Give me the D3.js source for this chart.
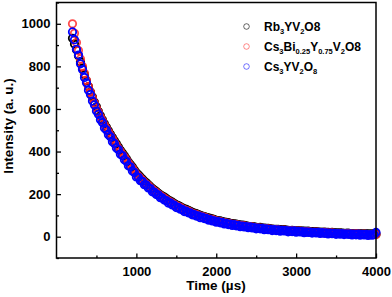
<!DOCTYPE html>
<html>
<head>
<meta charset="utf-8">
<script src="https://cdn.jsdelivr.net/npm/d3@7/dist/d3.min.js"></script>
<style>
  html, body { margin: 0; padding: 0; background: #fff; }
  svg { display: block; }
  text { font-family: "Liberation Sans", Arial, sans-serif; font-weight: bold; fill: #000; }
</style>
</head>
<body>
<svg id="chart" width="392" height="297"></svg>
<script>
// ---- data ----
const times = [
  200,225,250,275,300,325,350,375,400,425,450,475,
  500,525,550,575,600,625,650,675,700,725,750,775,
  800,825,850,875,900,925,950,975,1000,1025,1050,1075,
  1100,1125,1150,1175,1200,1225,1250,1275,1300,1325,1350,1375,
  1400,1425,1450,1475,1500,1525,1550,1575,1600,1625,1650,1675,
  1700,1725,1750,1775,1800,1825,1850,1875,1900,1925,1950,1975,
  2000,2025,2050,2075,2100,2125,2150,2175,2200,2225,2250,2275,
  2300,2325,2350,2375,2400,2425,2450,2475,2500,2525,2550,2575,
  2600,2625,2650,2675,2700,2725,2750,2775,2800,2825,2850,2875,
  2900,2925,2950,2975,3000,3025,3050,3075,3100,3125,3150,3175,
  3200,3225,3250,3275,3300,3325,3350,3375,3400,3425,3450,3475,
  3500,3525,3550,3575,3600,3625,3650,3675,3700,3725,3750,3775,
  3800,3825,3850,3875,3900,3925,3950,3975,
  4000];

const rbValues = [
  932,905,878,850,822,792,762,733,705,680,656,632,
  610,588,568,549,530,514,498,481,466,451,436,421,
  406,393,380,366,351,339,327,313,300,291,281,271,
  261,253,244,235,226,219,212,204,197,191,186,179,
  172,167,162,156,150,146,141,136,131,128,124,119,
  114,111,108,104,100,97,95,91,88,86,84,80,
  77,75,74,71,69,67,66,63,61,60,59,57,
  55,54,53,51,49,48,48,46,44,43,44,41,
  40,39,39,37,36,35,35,34,33,32,33,31,
  30,29,30,28,28,27,28,26,26,25,26,24,
  24,23,24,22,22,21,22,20,20,19,20,18,
  18,17,18,17,16,16,17,15,15,14,15,14,
  14,13,14,13,13,12,13,12,
  12];

const csBiValues = [
  1000,955,912,874,835,800,768,735,706,678,653,628,
  605,584,562,545,525,508,492,475,460,444,430,414,
  400,386,374,360,346,333,321,307,294,284,275,265,
  255,247,240,230,222,214,208,200,193,186,181,174,
  168,162,158,151,146,141,138,131,127,123,120,115,
  110,106,105,100,97,94,92,88,84,82,81,77,
  74,72,71,68,66,64,63,60,58,58,57,54,
  52,51,51,48,47,46,46,43,42,41,41,39,
  38,37,37,35,34,33,33,32,30,30,31,29,
  28,27,28,26,26,25,26,24,23,23,24,22,
  21,21,22,20,19,19,20,18,17,17,18,16,
  15,15,16,15,14,14,15,13,12,12,13,12,
  11,11,12,11,10,10,11,10,
  10];

const csValues = [
  962,925,880,853,812,785,748,723,688,668,637,619,
  590,575,549,536,510,501,479,469,446,438,417,409,
  387,381,362,354,333,328,309,302,281,279,263,260,
  244,243,229,226,211,210,198,197,183,182,172,170,
  158,159,149,148,137,138,129,128,118,120,112,112,
  103,104,97,98,89,92,85,86,78,80,74,75,
  68,71,65,67,60,63,57,59,53,57,51,53,
  47,50,46,48,42,46,41,43,37,41,37,39,
  33,37,33,35,29,33,29,32,26,30,27,29,
  23,27,24,27,21,25,22,24,19,23,20,22,
  17,21,18,20,15,19,16,18,13,17,14,16,
  11,15,12,15,10,14,11,13,8,12,9,12,
  7,11,8,11,6,10,7,10,
  20];

const xMajorTicks = [1000,2000,3000,4000];
const xMinorTicks = [500,1500,2500,3500];
const yMajorTicks = [0,200,400,600,800,1000];
const yMinorTicks = [-100,100,300,500,700,900,1100];

// legend labels: [text, isSubscript]
const legendLabels = [
  [["Rb",0],["3",1],["YV",0],["2",1],["O8",0]],
  [["Cs",0],["3",1],["Bi",0],["0.25",1],["Y",0],["0.75",1],["V",0],["2",1],["O8",0]],
  [["Cs",0],["3",1],["YV",0],["2",1],["O",0],["8",1]]
];
const seriesColors = ["#000000", "#ff2a2a", "#0000ff"];
const seriesOpacity = [1, 0.85, 1];

// ---- chart ----
const svg = d3.select("#chart");
const x = d3.scaleLinear().domain([0, 4000]).range([56.5, 376]);
const y = d3.scaleLinear().domain([-100, 1100]).range([258, 2.5]);

const series = [rbValues, csBiValues, csValues];

// markers
series.forEach((vals, si) => {
  svg.append("g")
    .selectAll("circle")
    .data(times.map((t, i) => [t, vals[i]]))
    .join("circle")
    .attr("cx", d => x(d[0]))
    .attr("cy", d => y(d[1]))
    .attr("r", 3.7)
    .attr("fill", "none")
    .attr("stroke", seriesColors[si])
    .attr("stroke-opacity", seriesOpacity[si])
    .attr("stroke-width", 1.8);
});

// frame
svg.append("rect")
  .attr("x", x(0)).attr("y", y(1100))
  .attr("width", x(4000) - x(0)).attr("height", y(-100) - y(1100))
  .attr("fill", "none").attr("stroke", "#000").attr("stroke-width", 1.5);

// x axis
const gx = svg.append("g").attr("transform", `translate(0,${y(-100)})`);
gx.call(d3.axisBottom(x).tickValues(xMajorTicks).tickSize(-4.5).tickSizeOuter(0).tickPadding(9).tickFormat(d3.format("d")));
gx.append("g").call(d3.axisBottom(x).tickValues(xMinorTicks).tickSize(-2.5).tickSizeOuter(0).tickFormat(""));

// y axis
const gy = svg.append("g").attr("transform", `translate(${x(0)},0)`);
gy.call(d3.axisLeft(y).tickValues(yMajorTicks).tickSize(-4.5).tickSizeOuter(0).tickPadding(6).tickFormat(d3.format("d")));
gy.append("g").call(d3.axisLeft(y).tickValues(yMinorTicks).tickSize(-2.5).tickSizeOuter(0).tickFormat(""));
svg.selectAll(".domain").remove();

svg.selectAll(".tick line").attr("stroke", "#000").attr("stroke-width", 1.3);
svg.selectAll(".tick text")
  .style("font-family", '"Liberation Sans", Arial, sans-serif')
  .style("font-weight", "bold")
  .style("font-size", "13px")
  .attr("fill", "#000");

// axis titles
svg.append("text")
  .attr("x", 216).attr("y", 290)
  .attr("text-anchor", "middle")
  .style("font-size", "13.5px")
  .text("Time (\u00B5s)");

svg.append("text")
  .attr("transform", `translate(13,126) rotate(-90)`)
  .attr("text-anchor", "middle")
  .style("font-size", "13.5px")
  .text("Intensity (a. u.)");

// legend
const legendY = [27, 47, 67];
legendLabels.forEach((parts, i) => {
  svg.append("circle")
    .attr("cx", 246.5).attr("cy", legendY[i] - 0.5)
    .attr("r", 2.8)
    .attr("fill", "none")
    .attr("stroke", seriesColors[i])
    .attr("stroke-opacity", i === 0 ? 0.6 : 0.55)
    .attr("stroke-width", 1);
  const t = svg.append("text")
    .attr("x", 264).attr("y", legendY[i] + 4)
    .style("font-size", "12px");
  let sub = false;
  parts.forEach(([s, isSub]) => {
    const ts = t.append("tspan").text(s);
    if (isSub && !sub) { ts.attr("dy", 3).style("font-size", "7.5px"); sub = true; }
    else if (isSub && sub) { ts.style("font-size", "7.5px"); }
    else if (!isSub && sub) { ts.attr("dy", -3); sub = false; }
  });
});
</script>
</body>
</html>
